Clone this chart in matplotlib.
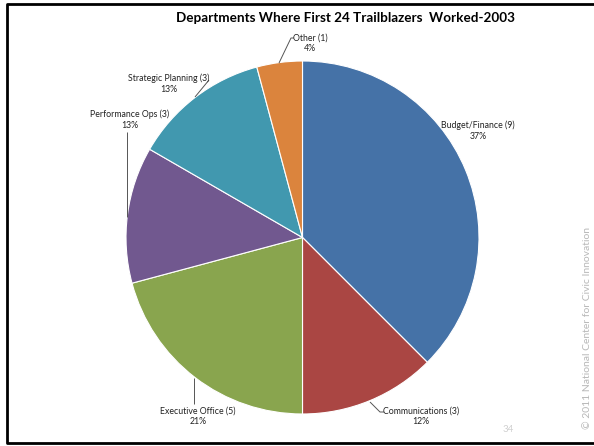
import matplotlib.pyplot as plt

W, H = 594, 446

departments = ["Budget/Finance", "Communications", "Executive Office",
               "Performance Ops", "Strategic Planning", "Other"]
counts = [9, 3, 5, 3, 3, 1]
percents = [37, 12, 21, 13, 13, 4]
colors = ["#4572A7", "#AA4643", "#89A54E", "#71588F", "#4198AF", "#DB843D"]

# label centres and leader lines, in pixel coords from the top-left
label_pos = [(478, 131), (421, 416), (198, 416), (130, 120), (169, 84), (310, 43)]
leaders = [
    None,
    [(370, 402), (380, 412), (384, 412)],
    [(194, 378), (194, 404)],
    [(127, 217), (127, 132)],
    [(195, 97), (209, 80)],
    [(279, 63), (291, 38), (294, 38)],
]


def Y(y):
    return H - y


plt.rcParams['font.family'] = ['Lato', 'DejaVu Sans']
fig = plt.figure(figsize=(W / 100, H / 100), dpi=100)
ax = fig.add_axes([0, 0, 1, 1])

ax.pie(counts, colors=colors, startangle=90, counterclock=False,
       center=(302.5, Y(237.5)), radius=176.5,
       wedgeprops=dict(edgecolor='white', linewidth=0.8))
ax.set_xlim(0, W)
ax.set_ylim(0, H)
ax.set_aspect('equal')
ax.axis('off')

for name, n, p, (x, y), line in zip(departments, counts, percents, label_pos, leaders):
    ax.text(x, Y(y), f"{name} ({n})\n{p}%", ha='center', va='center',
            fontsize=6.3, color='#222222', linespacing=1.25)
    if line:
        ax.plot([q[0] for q in line], [Y(q[1]) for q in line],
                color='#555555', lw=0.7, solid_capstyle='butt')

ax.text(345, Y(18), "Departments Where First 24 Trailblazers  Worked-2003",
        ha='center', va='center', fontsize=9.7, fontweight='bold', color='black')

# slide frame (right edge runs off the page)
ax.plot([W + 5, 7, 7, W + 5], [Y(4), Y(4), Y(443), Y(443)],
        color='black', lw=2, clip_on=False)

ax.text(508, Y(430), "34", ha='center', va='center', fontsize=7, color='#d0d0d0')
ax.text(587, Y(328), "\u00a9 2011 National Center for Civic Innovation",
        rotation=90, ha='center', va='center', fontsize=7.5, color='#b8b8b8')

fig.savefig("out.png", dpi=100)
